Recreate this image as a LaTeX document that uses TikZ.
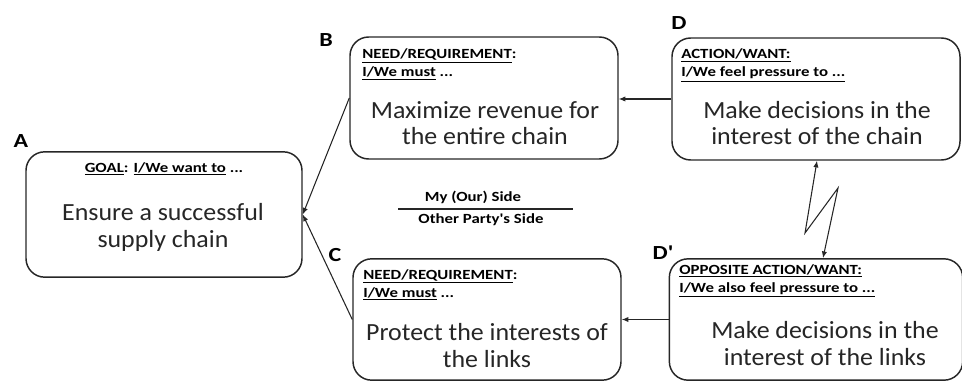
\documentclass[tikz,border=0pt]{standalone}
\usepackage{fontspec}
\setmainfont{Carlito}
\newfontfamily\wide[FakeStretch=1.2]{Carlito}
\newfontfamily\bodyfont[FakeStretch=1.05]{Carlito}
\usetikzlibrary{arrows.meta}

\tikzset{
  box/.style={draw=black!85, line width=1.1pt, rounded corners=14pt, inner sep=0pt},
  head/.style={anchor=base west, font=\wide\bfseries\fontsize{10.5}{13.5}\selectfont, align=left, inner sep=0pt},
  body/.style={anchor=base, font=\bodyfont\fontsize{18.5}{20}\selectfont, align=center, inner sep=0pt, text=black!85},
  tag/.style={font=\wide\bfseries\fontsize{15}{17}\selectfont, inner sep=0pt},
  side/.style={font=\wide\bfseries\fontsize{10.5}{12}\selectfont, inner sep=0pt},
  link/.style={-{Latex[length=5pt,width=4pt]}, line width=0.8pt, draw=black!85}
}

\begin{document}
\begin{tikzpicture}[x=0.75pt,y=-0.75pt]

%SPACING
\useasboundingbox (0,0) rectangle (962,381);
%SPACING

\node[box, minimum width=207pt, minimum height=94pt](v1) at (164,214.5) {};
\node[box, minimum width=201pt, minimum height=91.5pt](v2) at (484,98) {};
\node[box, minimum width=201pt, minimum height=91pt](v3) at (487,319.5) {};
\node[box, minimum width=216pt, minimum height=91.5pt](v4) at (816,99) {};
\node[box, minimum width=220pt, minimum height=91pt](v5) at (816,319.5) {};

\node[tag](l1) at (21,141) {A};
\node[tag](l2) at (326,40) {B};
\node[tag](l3) at (335,255) {C};
\node[tag](l4) at (679,23) {D};
\node[tag](l5) at (663,253) {D'};

\node[head, anchor=base](h1) at (164,172) {\underline{GOAL}: \underline{I/We want to} ...};
\node[head](h2) at (362,77) {\underline{NEED/REQUIREMENT}:\\ \underline{I/We must} ...};
\node[head](h3) at (363,297) {\underline{NEED/REQUIREMENT}:\\\underline{I/We must} ...};
\node[head](h4) at (681,77) {\underline{ACTION/WANT:}\\\underline{I/We feel pressure to ...}};
\node[head](h5) at (679,292) {\underline{OPPOSITE ACTION/WANT:}\\\underline{I/We also feel pressure to ...}};

\node[body](t1) at (163,247) {Ensure a successful\\supply chain};
\node[body](t2) at (485,145) {Maximize revenue for\\the entire chain};
\node[body](t3) at (487,367) {Protect the interests of\\the links};
\node[body](t4) at (817,145) {Make decisions in the\\interest of the chain};
\node[body](t5) at (825,365) {Make decisions in the\\interest of the links};

\node[side](s1) at (473,197) {My (Our) Side};
\node[side](s2) at (481,220) {Other Party's Side};
\draw[line width=0.8pt, black!85] (398,209) -- (573,209);

\draw[link] (v2.west) -- (v1.east);
\draw[link] (v3.west) -- (v1.east);
\draw[link] (v4.west) -- (v4.west -| v2.east);
\draw[link] (v5.west) -- (v5.west -| v3.east);

\draw[link, {Latex[length=5pt,width=4pt]}-{Latex[length=5pt,width=4pt]}] (817,0 |- v4.south) -- (805,233) -- (838,188) -- (823,0 |- v5.north);

\end{tikzpicture}
\end{document}
